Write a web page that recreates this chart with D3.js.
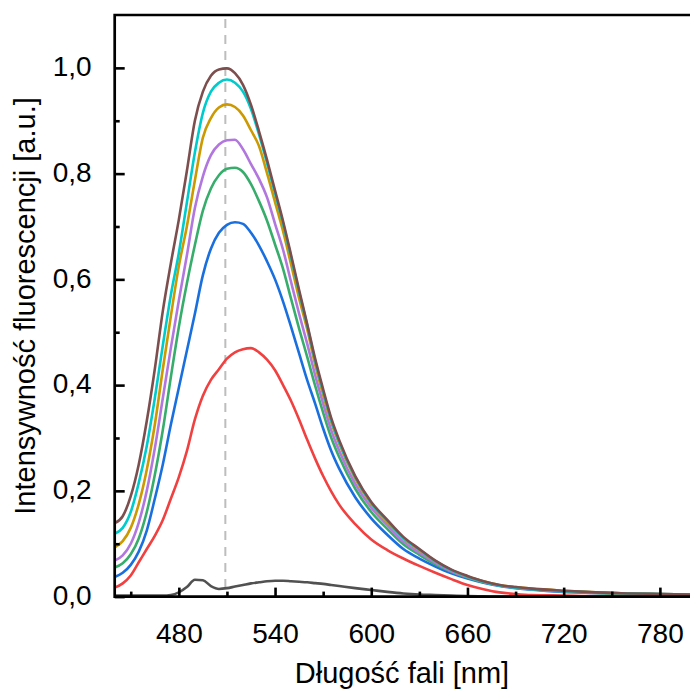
<!DOCTYPE html>
<html>
<head>
<meta charset="utf-8">
<script src="https://cdn.jsdelivr.net/npm/d3@7"></script>
<style>
  body { margin: 0; background: #fff; }
  svg text { font-family: "Liberation Sans", Arial, sans-serif; fill: #000; }
</style>
</head>
<body>
<div id="chart"></div>
<script>
var width = 690;
var height = 691;

// Wavelength grid (nm) shared by every spectrum
var wavelengths = [440, 445, 450, 455, 460, 465, 470, 475, 480, 485, 490, 495, 500, 505, 510, 515,
  520, 525, 530, 535, 540, 545, 550, 555, 560, 565, 570, 575, 580, 590, 600, 610, 620, 630, 640,
  650, 660, 670, 680, 690, 700, 720, 740, 760, 780, 800];

// Intensity, one list per spectrum
var grayValues = [0.002, 0.002, 0.002, 0.002, 0.002, 0.002, 0.002, 0.003, 0.008, 0.018, 0.032, 0.031,
  0.020, 0.0145, 0.016, 0.019, 0.022, 0.025, 0.027, 0.029, 0.030, 0.030, 0.029, 0.028, 0.027, 0.0255,
  0.024, 0.022, 0.020, 0.016, 0.0125, 0.009, 0.006, 0.004, 0.003, 0.002, 0.001, 0.0005, 0, 0, 0, 0, 0, 0, 0, 0];
var redValues = [0.017, 0.025, 0.040, 0.065, 0.090, 0.115, 0.145, 0.185, 0.226, 0.275, 0.335, 0.380,
  0.410, 0.430, 0.450, 0.462, 0.468, 0.470, 0.462, 0.448, 0.428, 0.400, 0.370, 0.335, 0.297, 0.261,
  0.228, 0.199, 0.174, 0.137, 0.108, 0.088, 0.072, 0.058, 0.045, 0.033, 0.022, 0.014, 0.008, 0.005,
  0.003, 0.002, 0.001, 0.001, 0.001, 0.001];
var blueValues = [0.037, 0.045, 0.060, 0.085, 0.125, 0.185, 0.250, 0.325, 0.395, 0.465, 0.535, 0.608,
  0.658, 0.688, 0.703, 0.708, 0.705, 0.688, 0.664, 0.634, 0.600, 0.558, 0.510, 0.460, 0.410, 0.365,
  0.318, 0.276, 0.242, 0.188, 0.148, 0.117, 0.090, 0.072, 0.057, 0.044, 0.034, 0.026, 0.020, 0.016,
  0.013, 0.009, 0.007, 0.005, 0.004, 0.004];
var greenValues = [0.055, 0.063, 0.080, 0.110, 0.160, 0.230, 0.315, 0.415, 0.510, 0.592, 0.665, 0.730,
  0.772, 0.797, 0.809, 0.811, 0.803, 0.780, 0.748, 0.711, 0.666, 0.620, 0.563, 0.507, 0.454, 0.399,
  0.348, 0.301, 0.264, 0.204, 0.160, 0.128, 0.099, 0.079, 0.061, 0.047, 0.036, 0.027, 0.021, 0.017,
  0.014, 0.010, 0.007, 0.005, 0.004, 0.004];
var purpleValues = [0.068, 0.078, 0.100, 0.140, 0.200, 0.280, 0.375, 0.470, 0.560, 0.645, 0.735, 0.795,
  0.835, 0.855, 0.863, 0.864, 0.846, 0.818, 0.790, 0.755, 0.705, 0.656, 0.595, 0.535, 0.479, 0.419,
  0.365, 0.315, 0.276, 0.213, 0.168, 0.135, 0.104, 0.083, 0.064, 0.048, 0.037, 0.028, 0.021, 0.017,
  0.014, 0.010, 0.008, 0.006, 0.005, 0.004];
var goldValues = [0.093, 0.105, 0.130, 0.175, 0.240, 0.325, 0.430, 0.530, 0.625, 0.700, 0.787, 0.868,
  0.905, 0.925, 0.931, 0.926, 0.910, 0.882, 0.852, 0.801, 0.746, 0.691, 0.628, 0.564, 0.506, 0.439,
  0.382, 0.330, 0.289, 0.223, 0.175, 0.141, 0.110, 0.088, 0.067, 0.050, 0.038, 0.029, 0.022, 0.018,
  0.015, 0.011, 0.008, 0.006, 0.005, 0.004];
var cyanValues = [0.119, 0.130, 0.160, 0.215, 0.285, 0.375, 0.475, 0.570, 0.650, 0.745, 0.840, 0.915,
  0.955, 0.972, 0.978, 0.972, 0.955, 0.922, 0.874, 0.820, 0.763, 0.706, 0.642, 0.576, 0.514, 0.446,
  0.388, 0.334, 0.292, 0.226, 0.177, 0.143, 0.111, 0.089, 0.067, 0.050, 0.038, 0.028, 0.021, 0.017,
  0.014, 0.010, 0.008, 0.006, 0.005, 0.004];
var brownValues = [0.139, 0.152, 0.190, 0.250, 0.332, 0.430, 0.540, 0.630, 0.713, 0.805, 0.900, 0.955,
  0.985, 0.997, 0.999, 0.990, 0.968, 0.930, 0.880, 0.826, 0.768, 0.710, 0.646, 0.580, 0.516, 0.450,
  0.392, 0.338, 0.296, 0.228, 0.179, 0.145, 0.113, 0.090, 0.068, 0.051, 0.039, 0.029, 0.022, 0.018,
  0.015, 0.011, 0.008, 0.006, 0.005, 0.004];

// Draw order and colours (last one ends up on top)
var seriesValues = [grayValues, redValues, blueValues, greenValues, purpleValues, goldValues, cyanValues, brownValues];
var seriesColors = ['#515151', '#F14040', '#1A6FDF', '#37AD6B', '#B177DE', '#CC9900', '#00CBCC', '#7D4E4E'];

// Dashed reference line position (nm)
var markerWavelength = 509;

// Tick values and labels
var xTicks = [480, 540, 600, 660, 720, 780];
var xMinorTicks = [450, 510, 570, 630, 690, 750];
var yTicks = [0, 0.2, 0.4, 0.6, 0.8, 1.0];
var yMinorTicks = [0.1, 0.3, 0.5, 0.7, 0.9];
var xTitle = 'Długość fali [nm]';
var yTitle = 'Intensywność fluorescencji [a.u.]';

// Plot area (the right edge runs past the window, as in the picture)
var plotLeft = 114.7, plotTop = 15, plotBottom = 596.6;
var x = d3.scaleLinear().domain([440, 800]).range([plotLeft, plotLeft + 360 * 1.6035]);
var y = d3.scaleLinear().domain([0, 1.1]).range([plotBottom, plotTop]);

var svg = d3.select('#chart').append('svg')
    .attr('width', width)
    .attr('height', height);

var line = d3.line()
    .x((d, i) => x(wavelengths[i]))
    .y(d => y(d))
    .curve(d3.curveMonotoneX);

// Dashed marker
svg.append('line')
    .attr('x1', x(markerWavelength)).attr('x2', x(markerWavelength))
    .attr('y1', plotTop + 4).attr('y2', plotBottom)
    .attr('stroke', '#bdbdbd')
    .attr('stroke-width', 2)
    .attr('stroke-dasharray', '9,7');

// Spectra
svg.selectAll('path.spectrum')
  .data(seriesValues)
  .enter()
  .append('path')
    .attr('class', 'spectrum')
    .attr('d', line)
    .attr('fill', 'none')
    .attr('stroke', (d, i) => seriesColors[i])
    .attr('stroke-width', 2.6)
    .attr('stroke-linejoin', 'round');

// Bottom axis, ticks point inward
var xAxis = svg.append('g').attr('transform', 'translate(0,' + plotBottom + ')')
    .call(d3.axisBottom(x).tickValues(xTicks).tickSizeInner(-9).tickSizeOuter(0).tickPadding(27)
      .tickFormat(d3.format('d')));
svg.append('g').attr('transform', 'translate(0,' + plotBottom + ')')
    .call(d3.axisBottom(x).tickValues(xMinorTicks).tickSizeInner(-5).tickSizeOuter(0).tickFormat(''));

// Left axis, ticks point inward
var yAxis = svg.append('g').attr('transform', 'translate(' + plotLeft + ',0)')
    .call(d3.axisLeft(y).tickValues(yTicks).tickSizeInner(-10).tickSizeOuter(0).tickPadding(23)
      .tickFormat(d => d3.format('.1f')(d).replace('.', ',')));
svg.append('g').attr('transform', 'translate(' + plotLeft + ',0)')
    .call(d3.axisLeft(y).tickValues(yMinorTicks).tickSizeInner(-5).tickSizeOuter(0).tickFormat(''));

svg.selectAll('.domain').remove();
svg.selectAll('.tick line').attr('stroke', '#000').attr('stroke-width', 2.6);
svg.selectAll('.tick text').attr('font-size', 28).attr('fill', '#000');
yAxis.selectAll('.tick text').attr('dy', '0.28em');

// Frame: left, bottom and top lines
svg.append('path')
    .attr('d', 'M' + (width + 5) + ',' + plotTop + 'H' + plotLeft + 'V' + plotBottom + 'H' + (width + 5))
    .attr('fill', 'none')
    .attr('stroke', '#000')
    .attr('stroke-width', 2.7);

// Axis titles
svg.append('text')
    .attr('x', 402)
    .attr('y', 683)
    .attr('text-anchor', 'middle')
    .attr('font-size', 29)
    .text(xTitle);

svg.append('text')
    .attr('transform', 'translate(35,306) rotate(-90)')
    .attr('text-anchor', 'middle')
    .attr('font-size', 29)
    .text(yTitle);
</script>
</body>
</html>
